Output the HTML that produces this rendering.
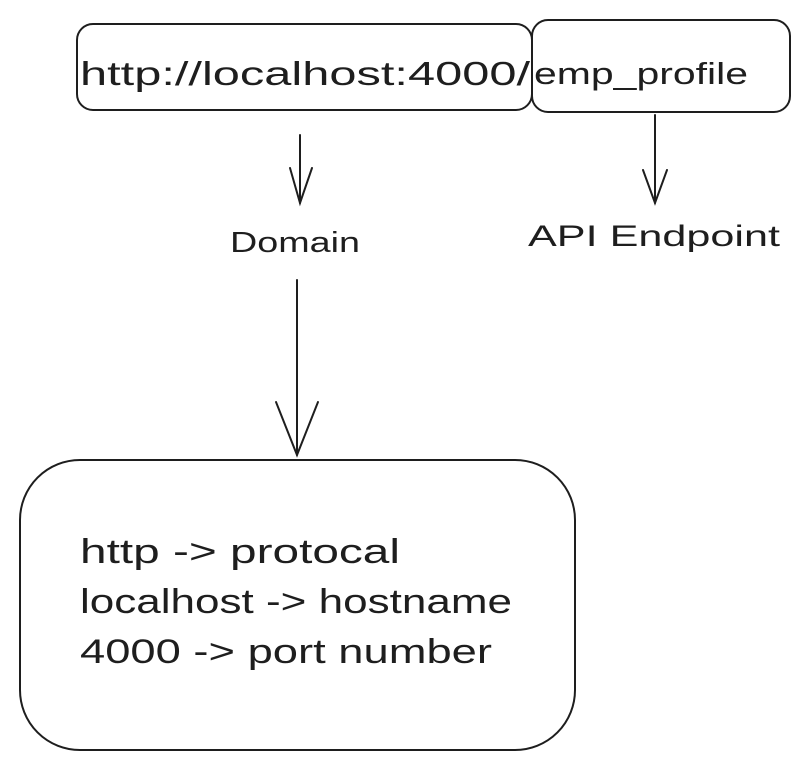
<!DOCTYPE html>
<html><head><meta charset="utf-8"><style>
body{margin:0;background:#fff;width:807px;height:771px;overflow:hidden}
svg text{font-family:"Liberation Sans",sans-serif;fill:#1e1e1e}
</style></head><body>
<svg width="807" height="771" viewBox="0 0 807 771" xmlns="http://www.w3.org/2000/svg">
<g fill="none" stroke="#1e1e1e" stroke-width="2" stroke-linecap="round">
<rect x="77" y="24" width="455" height="86" rx="16"/>
<rect x="532" y="20" width="258" height="92" rx="16"/>
<line x1="300" y1="135" x2="300" y2="203"/>
<path d="M290 168 L300 203 L312 168"/>
<line x1="655" y1="115" x2="655" y2="203"/>
<path d="M643 170 L655 203 L667 170"/>
<line x1="297" y1="280" x2="297" y2="455"/>
<path d="M276 402 L297 455 L318 402"/>
<rect x="20" y="460" width="555" height="290" rx="60"/>
</g>
<text x="80" y="85" font-size="33" textLength="450" lengthAdjust="spacingAndGlyphs">http://localhost:4000/</text>
<text x="534" y="84" font-size="31" textLength="214" lengthAdjust="spacingAndGlyphs">emp_profile</text>
<text x="230" y="252" font-size="29" textLength="130" lengthAdjust="spacingAndGlyphs">Domain</text>
<text x="528" y="246" font-size="30" textLength="252" lengthAdjust="spacingAndGlyphs">API Endpoint</text>
<text x="80" y="563" font-size="34" textLength="320" lengthAdjust="spacingAndGlyphs">http -&gt; protocal</text>
<text x="80" y="613" font-size="34" textLength="432" lengthAdjust="spacingAndGlyphs">localhost -&gt; hostname</text>
<text x="80" y="663" font-size="34" textLength="412" lengthAdjust="spacingAndGlyphs">4000 -&gt; port number</text>
</svg>
</body></html>
